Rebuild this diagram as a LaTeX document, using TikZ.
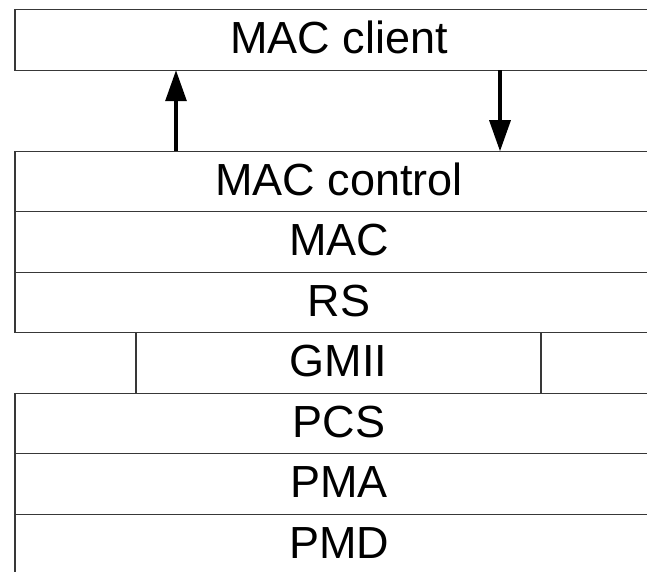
\documentclass[tikz,border=0pt]{standalone}
\usepackage{fontspec}
\setmainfont{Liberation Sans}
\usetikzlibrary{arrows.meta}
\begin{document}
\begin{tikzpicture}[x=1pt,y=-1pt,
  layer/.style={draw=black!78, line width=1.4pt, fill=white,
    minimum width=648pt, minimum height=60.5pt, inner sep=0pt, outer sep=0pt,
    text height=32pt, text depth=5pt, font=\fontsize{45}{45}\selectfont},
  gap/.style={layer, draw=none, fill=none},
  flow/.style={line width=3.2pt, -{Triangle[length=31pt,width=21pt]}}]
  \useasboundingbox (0,0) rectangle (647,572);
  % layer stack
  \node[layer] (client) at (339,40) {MAC client};
  \node[layer] (ctrl) at (339,181.5) {MAC control};
  \node[layer] (mac) at (339,242) {MAC};
  \node[layer] (rs) at (339,302.5) {RS};
  \node[layer] (pcs) at (339,423.5) {PCS};
  \node[layer] (pma) at (339,484) {PMA};
  \node[layer] (pmd) at (339,544.5) {PMD};
  % GMII: narrower band between RS and PCS
  \node[gap, minimum width=405pt] (gmii) at (338.5,363) {GMII};
  \draw[black!78, line width=1.4pt] (gmii.north west) -- (gmii.south west)
    (gmii.north east) -- (gmii.south east);
  % data flow between client and control
  \coordinate (upx) at (176,0);
  \coordinate (downx) at (500,0);
  \draw[flow] (ctrl.north -| upx) -- (client.south -| upx);
  \draw[flow] (client.south -| downx) -- (ctrl.north -| downx);
\end{tikzpicture}
\end{document}
